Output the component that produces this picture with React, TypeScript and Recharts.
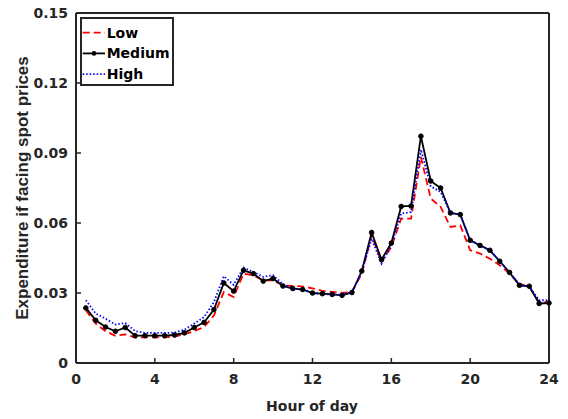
import React from 'react';
import { LineChart, Line, XAxis, YAxis, Legend } from 'recharts';

const hours = [0.5, 1, 1.5, 2, 2.5, 3, 3.5, 4, 4.5, 5, 5.5, 6, 6.5, 7, 7.5, 8, 8.5, 9, 9.5, 10, 10.5, 11, 11.5, 12,
  12.5, 13, 13.5, 14, 14.5, 15, 15.5, 16, 16.5, 17, 17.5, 18, 18.5, 19, 19.5, 20, 20.5, 21, 21.5, 22, 22.5, 23, 23.5, 24];

const low = [0.0226, 0.0169, 0.0136, 0.0117, 0.0123, 0.0109, 0.0110, 0.0110, 0.0110, 0.0113, 0.0123, 0.0137,
  0.0154, 0.0204, 0.0304, 0.0283, 0.0383, 0.0376, 0.0354, 0.0354, 0.0333, 0.0330, 0.0328, 0.0320,
  0.0309, 0.0305, 0.0300, 0.0305, 0.0383, 0.0547, 0.0433, 0.0497, 0.0619, 0.0619, 0.0883, 0.0705,
  0.0669, 0.0583, 0.0590, 0.0483, 0.0469, 0.0447, 0.0419, 0.0383, 0.0340, 0.0326, 0.0261, 0.0261];

const medium = [0.0236, 0.0183, 0.0154, 0.0136, 0.0152, 0.0117, 0.0117, 0.0117, 0.0117, 0.0120, 0.0129, 0.0152,
  0.0174, 0.0229, 0.0343, 0.0308, 0.0397, 0.0383, 0.0351, 0.0362, 0.0330, 0.0319, 0.0315, 0.0300,
  0.0297, 0.0294, 0.0290, 0.0302, 0.0394, 0.0559, 0.0443, 0.0514, 0.0671, 0.0673, 0.0972, 0.0780,
  0.0750, 0.0643, 0.0636, 0.0526, 0.0504, 0.0483, 0.0436, 0.0388, 0.0333, 0.0329, 0.0255, 0.0257];

const high = [0.0269, 0.0212, 0.0190, 0.0165, 0.0171, 0.0137, 0.0129, 0.0129, 0.0129, 0.0130, 0.0143, 0.0169,
  0.0197, 0.0261, 0.0372, 0.0335, 0.0409, 0.0390, 0.0369, 0.0376, 0.0337, 0.0320, 0.0315, 0.0300,
  0.0295, 0.0294, 0.0292, 0.0305, 0.0390, 0.0533, 0.0426, 0.0504, 0.0640, 0.0647, 0.0915, 0.0757,
  0.0733, 0.0643, 0.0636, 0.0526, 0.0504, 0.0483, 0.0436, 0.0388, 0.0333, 0.0329, 0.0269, 0.0269];

const xTicks = [0, 4, 8, 12, 16, 20, 24];
const yTicks = [0, 0.03, 0.06, 0.09, 0.12, 0.15];
const seriesNames = ['Low', 'Medium', 'High'];
const xLabel = 'Hour of day';
const yLabel = 'Expenditure if facing spot prices';

const data = hours.map((h, i) => ({ hour: h, low: low[i], medium: medium[i], high: high[i] }));

const AXIS = '#262626';
const tickStyle = { fill: AXIS, fontSize: 14, fontWeight: 'bold', fontFamily: 'DejaVu Sans' } as any;

const legendStyles: Record<string, { stroke: string; dash?: string; dot: boolean }> = {
  Low: { stroke: '#ff0000', dash: '7 4', dot: false },
  Medium: { stroke: '#000000', dot: true },
  High: { stroke: '#0000ff', dash: '1.5 2', dot: false },
};

const renderLegend = () => (
  <div style={{ width: 94, height: 69, border: `2px solid ${AXIS}`, boxSizing: 'border-box', background: '#fff' }}>
    <svg width={90} height={65} style={{ display: 'block' }}>
      {seriesNames.map((name, i) => {
        const st = legendStyles[name];
        const y = 13.7 + i * 20.7;
        return (
          <g key={name}>
            <line x1={0.7} x2={23} y1={y} y2={y} stroke={st.stroke} strokeWidth={1.8} strokeDasharray={st.dash} />
            {st.dot && <circle cx={12} cy={y} r={2.3} fill="#000" />}
            <text x={24.7} y={y} dominantBaseline="central" fontFamily="DejaVu Sans" fontWeight="bold" fontSize={14} fill="#000">
              {name}
            </text>
          </g>
        );
      })}
    </svg>
  </div>
);

const fmtY = (v: number) => (v === 0 ? '0' : v.toFixed(2));

export default function App() {
  return (
    <div style={{ position: 'absolute', left: 0, top: 0, width: 568, height: 419, background: '#fff' }}>
      <LineChart width={568} height={419} data={data} margin={{ top: 12, right: 18, bottom: 0, left: 0 }}>
        <XAxis
          xAxisId="bottom"
          dataKey="hour"
          type="number"
          domain={[0, 24]}
          ticks={xTicks}
          height={56}
          tickSize={-5}
          tickMargin={16}
          tick={tickStyle}
          stroke={AXIS}
          axisLine={{ stroke: AXIS, strokeWidth: 2 }}
          tickLine={{ stroke: AXIS, strokeWidth: 1.5 }}
          label={(props: any) => (
            <text x={312} y={410.5} textAnchor="middle" fontFamily="DejaVu Sans" fontWeight="bold" fontSize={14} fill={AXIS}>
              {xLabel}
            </text>
          )}
        />
        <XAxis
          xAxisId="top"
          orientation="top"
          dataKey="hour"
          type="number"
          domain={[0, 24]}
          ticks={xTicks}
          height={1}
          tickSize={-5}
          tick={false}
          stroke={AXIS}
          axisLine={{ stroke: AXIS, strokeWidth: 2 }}
          tickLine={{ stroke: AXIS, strokeWidth: 1.5 }}
        />
        <YAxis
          yAxisId="left"
          type="number"
          domain={[0, 0.15]}
          ticks={yTicks}
          width={76}
          tickSize={-5}
          tickMargin={13}
          tick={tickStyle}
          tickFormatter={fmtY}
          axisLine={{ stroke: AXIS, strokeWidth: 2 }}
          tickLine={{ stroke: AXIS, strokeWidth: 1.5 }}
          label={(props: any) => (
            <text
              x={27.5}
              y={188}
              transform="rotate(-90 27.5 188)"
              textAnchor="middle"
              fontFamily="Liberation Sans"
              fontWeight="bold"
              fontSize={17}
              fill={AXIS}
            >
              {yLabel}
            </text>
          )}
        />
        <YAxis
          yAxisId="right"
          orientation="right"
          type="number"
          domain={[0, 0.15]}
          ticks={yTicks}
          width={1}
          tickSize={-5}
          tick={false}
          stroke={AXIS}
          axisLine={{ stroke: AXIS, strokeWidth: 2 }}
          tickLine={{ stroke: AXIS, strokeWidth: 1.5 }}
        />
        <Legend
          layout="vertical"
          align="center"
          verticalAlign="middle"
          content={renderLegend}
          wrapperStyle={{ position: 'absolute', left: 80, top: 17, width: 94, height: 69 }}
        />
        <Line
          xAxisId="top"
          yAxisId="right"
          dataKey="medium"
          stroke="#ffffff"
          strokeOpacity={0}
          dot={false}
          activeDot={false}
          legendType="none"
          isAnimationActive={false}
        />
        <Line
          xAxisId="bottom"
          yAxisId="left"
          name="Low"
          dataKey="low"
          stroke="#ff0000"
          strokeWidth={1.8}
          strokeDasharray="7 4"
          dot={false}
          isAnimationActive={false}
        />
        <Line
          xAxisId="bottom"
          yAxisId="left"
          name="Medium"
          dataKey="medium"
          stroke="#000000"
          strokeWidth={1.8}
          dot={{ r: 2.3, fill: '#000', stroke: '#000', strokeWidth: 1 }}
          isAnimationActive={false}
        />
        <Line
          xAxisId="bottom"
          yAxisId="left"
          name="High"
          dataKey="high"
          stroke="#0000ff"
          strokeWidth={1.8}
          strokeDasharray="1.5 2"
          dot={false}
          isAnimationActive={false}
        />
      </LineChart>
    </div>
  );
}
